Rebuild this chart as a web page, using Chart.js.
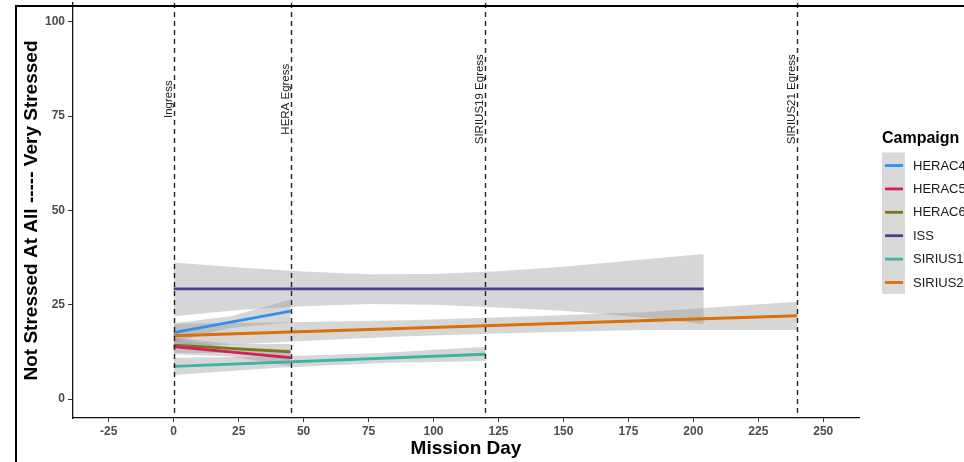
<!DOCTYPE html>
<html>
<head>
<meta charset="utf-8">
<script src="https://cdn.jsdelivr.net/npm/chart.js@4.4.1/dist/chart.umd.min.js"></script>
<style>
  html, body { margin: 0; padding: 0; background: #ffffff; }
  #wrap { width: 964px; height: 462px; position: relative; }
</style>
</head>
<body>
<div id="wrap"><canvas id="chart" width="964" height="462"></canvas></div>
<script>
// ---- data -------------------------------------------------------------
const campaigns = ['HERAC4', 'HERAC5', 'HERAC6', 'ISS', 'SIRIUS19', 'SIRIUS21'];
const campaignColors = ['#2F8FF3', '#D31F5C', '#7E7417', '#4A3E92', '#3DB3A4', '#D9700C'];

// fitted stress line per campaign (mission day -> score)
const heraC4Days = [0, 45];        const heraC4Fit = [17.6, 23.3];
const heraC5Days = [0, 45];        const heraC5Fit = [13.9, 11.0];
const heraC6Days = [0, 45];        const heraC6Fit = [14.3, 12.5];
const issDays = [0, 204];          const issFit = [29.2, 29.2];
const sirius19Days = [0, 120];     const sirius19Fit = [8.7, 11.9];
const sirius21Days = [0, 240];     const sirius21Fit = [16.8, 22.1];

// confidence band per campaign
const heraC4BandDays = [0, 22, 45];
const heraC4Low  = [15.2, 18.9, 20.3];
const heraC4High = [20.1, 22.0, 26.4];
const heraC5BandDays = [0, 22, 45];
const heraC5Low  = [11.9, 11.3, 8.8];
const heraC5High = [16.0, 13.7, 13.2];
const heraC6BandDays = [0, 22, 45];
const heraC6Low  = [12.2, 12.2, 10.4];
const heraC6High = [16.4, 14.6, 14.6];
const issBandDays = [0, 25, 50, 75, 100, 125, 150, 175, 204];
const issLow  = [22.0, 23.6, 24.6, 25.2, 25.0, 24.3, 23.4, 22.0, 19.9];
const issHigh = [36.2, 34.9, 33.8, 33.1, 33.2, 33.9, 35.1, 36.7, 38.5];
const sirius19BandDays = [0, 40, 80, 120];
const sirius19Low  = [6.4, 8.3, 9.6, 10.1];
const sirius19High = [11.0, 11.3, 12.2, 13.9];
const sirius21BandDays = [0, 45, 90, 135, 180, 240];
const sirius21Low  = [13.6, 15.3, 16.7, 17.6, 18.3, 18.3];
const sirius21High = [20.0, 20.4, 20.9, 21.9, 23.0, 25.8];

// mission events
const eventDays = [0, 45, 120, 240];
const eventLabels = ['Ingress', 'HERA Egress', 'SIRIUS19 Egress', 'SIRIUS21 Egress'];
const eventLabelLevel = 79.5;

// axes
const xTicks = [-25, 0, 25, 50, 75, 100, 125, 150, 175, 200, 225, 250];
const yTicks = [0, 25, 50, 75, 100];
const xTitle = 'Mission Day';
const yTitle = 'Not Stressed At All ----- Very Stressed';
const legendTitle = 'Campaign';

// ---- build datasets ---------------------------------------------------
const pts = (xs, ys) => xs.map((x, i) => ({ x: x, y: ys[i] }));

const fits = [
  [heraC4Days, heraC4Fit], [heraC5Days, heraC5Fit], [heraC6Days, heraC6Fit],
  [issDays, issFit], [sirius19Days, sirius19Fit], [sirius21Days, sirius21Fit]
];
const bands = [
  [heraC4BandDays, heraC4Low, heraC4High], [heraC5BandDays, heraC5Low, heraC5High],
  [heraC6BandDays, heraC6Low, heraC6High], [issBandDays, issLow, issHigh],
  [sirius19BandDays, sirius19Low, sirius19High], [sirius21BandDays, sirius21Low, sirius21High]
];

const datasets = [];
// lines first so they are painted above the ribbons
campaigns.forEach((name, i) => {
  datasets.push({
    label: name,
    isFit: true,
    data: pts(fits[i][0], fits[i][1]),
    borderColor: campaignColors[i],
    backgroundColor: campaignColors[i],
    borderWidth: 2.8,
    pointRadius: 0,
    fill: false,
    tension: 0
  });
});
campaigns.forEach((name, i) => {
  const lowIndex = datasets.length;
  datasets.push({
    label: name + ' low',
    data: pts(bands[i][0], bands[i][1]),
    borderWidth: 0,
    borderColor: 'rgba(0,0,0,0)',
    pointRadius: 0,
    fill: false
  });
  datasets.push({
    label: name + ' high',
    data: pts(bands[i][0], bands[i][2]),
    borderWidth: 0,
    borderColor: 'rgba(0,0,0,0)',
    backgroundColor: 'rgba(153,153,153,0.4)',
    pointRadius: 0,
    fill: lowIndex
  });
});

const FONT = '"Liberation Sans", Arial, Helvetica, sans-serif';

// ---- plugins ----------------------------------------------------------
const eventLines = {
  id: 'eventLines',
  afterDatasetsDraw(chart) {
    const { ctx, chartArea, scales } = chart;
    ctx.save();
    ctx.strokeStyle = '#222';
    ctx.lineWidth = 1.4;
    ctx.setLineDash([5, 4]);
    eventDays.forEach((d) => {
      const x = Math.round(scales.x.getPixelForValue(d)) + 0.5;
      ctx.beginPath();
      ctx.moveTo(x, chartArea.top);
      ctx.lineTo(x, chartArea.bottom);
      ctx.stroke();
    });
    ctx.setLineDash([]);
    ctx.fillStyle = '#222';
    ctx.font = '11.5px ' + FONT;
    ctx.textAlign = 'center';
    ctx.textBaseline = 'alphabetic';
    const y = scales.y.getPixelForValue(eventLabelLevel);
    eventDays.forEach((d, i) => {
      const x = scales.x.getPixelForValue(d) - 2;
      ctx.save();
      ctx.translate(x, y);
      ctx.rotate(-Math.PI / 2);
      ctx.fillText(eventLabels[i], 0, 0);
      ctx.restore();
    });
    ctx.restore();
  }
};

const decorations = {
  id: 'decorations',
  afterDraw(chart) {
    const { ctx, chartArea } = chart;
    ctx.save();
    // axis titles
    ctx.fillStyle = '#000';
    ctx.font = 'bold 19px ' + FONT;
    ctx.textAlign = 'center';
    ctx.textBaseline = 'middle';
    ctx.fillText(xTitle, (chartArea.left + chartArea.right) / 2, 449);
    ctx.save();
    ctx.translate(32, (chartArea.top + chartArea.bottom) / 2);
    ctx.rotate(-Math.PI / 2);
    ctx.fillText(yTitle, 0, 0);
    ctx.restore();

    // legend
    const fitSets = chart.data.datasets.filter((ds) => ds.isFit);
    ctx.font = 'bold 16px ' + FONT;
    ctx.textAlign = 'left';
    ctx.fillStyle = '#000';
    ctx.fillText(legendTitle, 882, 139);
    const keyX = 882, keyW = 23, rowH = 23.4, firstY = 165.5;
    ctx.fillStyle = '#D9D9D9';
    ctx.fillRect(keyX, firstY - 13, keyW, rowH * fitSets.length + 1);
    ctx.font = '13px ' + FONT;
    fitSets.forEach((ds, i) => {
      const cy = firstY + i * rowH;
      ctx.strokeStyle = ds.borderColor;
      ctx.lineWidth = 2.8;
      ctx.beginPath();
      ctx.moveTo(keyX + 3, cy);
      ctx.lineTo(keyX + keyW - 2, cy);
      ctx.stroke();
      ctx.fillStyle = '#1a1a1a';
      ctx.fillText(ds.label, 913, cy + 0.5);
    });

    // outer frame
    ctx.strokeStyle = '#000';
    ctx.lineWidth = 2;
    ctx.beginPath();
    ctx.moveTo(16, 462);
    ctx.lineTo(16, 6);
    ctx.lineTo(964, 6);
    ctx.stroke();
    ctx.restore();
  }
};

// ---- chart ------------------------------------------------------------
new Chart(document.getElementById('chart'), {
  type: 'line',
  data: { datasets: datasets },
  options: {
    responsive: false,
    devicePixelRatio: 1,
    animation: false,
    layout: { padding: { left: 0, right: 105, top: 3, bottom: 0 } },
    plugins: {
      legend: { display: false },
      tooltip: { enabled: false },
      filler: { propagate: false }
    },
    scales: {
      x: {
        type: 'linear',
        min: -38.75,
        max: 263.75,
        afterBuildTicks: (s) => { s.ticks = xTicks.map((v) => ({ value: v })); },
        afterFit: (s) => { s.height = 44; s.paddingLeft = 0; s.paddingRight = 0; },
        ticks: { color: '#4d4d4d', font: { size: 12, weight: 'bold', family: FONT }, padding: 2, maxRotation: 0, autoSkip: false },
        grid: { drawOnChartArea: false, drawTicks: true, tickLength: 4, tickColor: '#333', tickWidth: 1 },
        border: { display: true, color: '#111', width: 1.3 }
      },
      y: {
        type: 'linear',
        min: -5,
        max: 105,
        afterBuildTicks: (s) => { s.ticks = yTicks.map((v) => ({ value: v })); },
        afterFit: (s) => { s.width = 73; s.paddingTop = 0; s.paddingBottom = 0; },
        ticks: { color: '#4d4d4d', font: { size: 12, weight: 'bold', family: FONT }, padding: 3 },
        grid: { drawOnChartArea: false, drawTicks: true, tickLength: 5, tickColor: '#333', tickWidth: 1 },
        border: { display: true, color: '#111', width: 1.3 }
      }
    }
  },
  plugins: [eventLines, decorations]
});
</script>
</body>
</html>
